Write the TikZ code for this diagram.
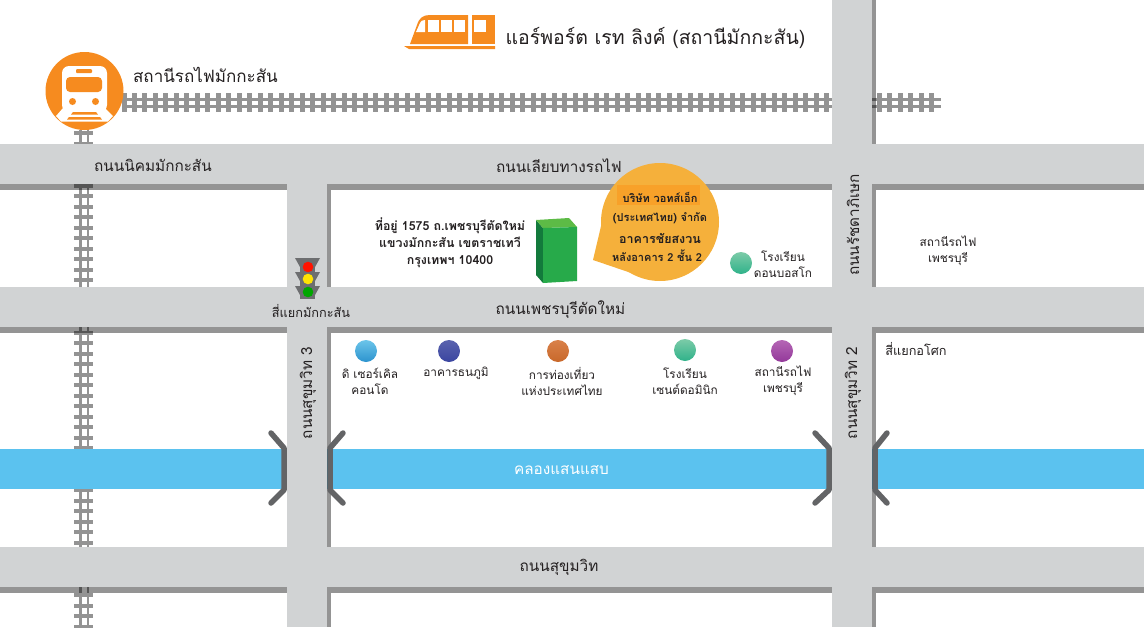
\documentclass[tikz,border=0pt]{standalone}
\usepackage{fontspec}
\setmainfont[Script=Thai]{Loma}
\definecolor{roadgray}{HTML}{D1D3D4}
\definecolor{tiegray}{HTML}{939393}
\definecolor{bridgegray}{HTML}{636466}
\definecolor{lampgray}{HTML}{6D6E70}
\definecolor{labelblack}{HTML}{231F20}
\definecolor{riverblue}{HTML}{5BC2EF}
\definecolor{trainorange}{HTML}{F68B1F}
\definecolor{balloon}{HTML}{F5B03B}
\definecolor{buildfront}{HTML}{27AA4A}
\definecolor{buildside}{HTML}{137A3C}
\definecolor{buildtop}{HTML}{5DBB46}
\definecolor{skytop}{HTML}{6CC5EA}
\definecolor{skybot}{HTML}{2C93CE}
\definecolor{navytop}{HTML}{5A63AE}
\definecolor{navybot}{HTML}{3A45A0}
\definecolor{rusttop}{HTML}{D9814A}
\definecolor{rustbot}{HTML}{C8682A}
\definecolor{minttop}{HTML}{7CCBA8}
\definecolor{mintbot}{HTML}{2FB28A}
\definecolor{plumtop}{HTML}{B566B5}
\definecolor{plumbot}{HTML}{93399A}
\tikzset{
  road/.style={fill=roadgray},
  shade/.style={fill=black, opacity=.42},
  rail/.style={fill=tiegray},
  bridge/.style={draw=bridgegray, line width=5.5pt, line cap=round, line join=round},
  lbl/.style={inner sep=0pt, text=labelblack, font=\fontsize{15.3}{15.3}\selectfont},
  place/.style={inner sep=0pt, text=labelblack, align=center, font=\fontsize{11.8}{16}\selectfont},
  info/.style={inner sep=0pt, text=labelblack, align=center, font=\bfseries\fontsize{12.4}{17}\selectfont},
  pin/.style={circle, minimum size=22pt, inner sep=0pt}
}
\begin{document}
\begin{tikzpicture}[x=1pt, y=-1pt]
    \useasboundingbox (0, 0) rectangle (1144, 627);
    % railway across the top
    \fill [rail] (122, 97.5) rectangle (941, 100.5);
    \fill [rail] (122, 104.5) rectangle (941, 107.5);
    \foreach \k in {0,...,77}
        \fill [rail] ({124+10.49*\k-2.5}, 93) rectangle ({124+10.49*\k+2.5}, 112);
    % railway down the left
    \fill [rail] (79, 130) rectangle (81.5, 627);
    \fill [rail] (86.5, 130) rectangle (89, 627);
    \foreach \k in {0,...,47}
        \fill [rail] (74, {133+10.5*\k-2}) rectangle (93, {133+10.5*\k+2});
    % river
    \fill [riverblue] (0, 449) rectangle (1144, 489);
    % shadow of the roads
    \foreach \y/\yy in {184/287, 327/547, 587/627} {
        \fill [shade] (0, \y) rectangle (287, \y+6);
        \fill [shade] (327, \y) rectangle (832, \y+6);
        \fill [shade] (327, \y+6) rectangle (331, \yy);
        \fill [shade] (872, \y) rectangle (1144, \y+6);
        \fill [shade] (872, \y+6) rectangle (876, \yy);
    }
    \fill [shade] (872, 0) rectangle (876, 144);
    % roads
    \fill [road] (0, 144) rectangle (1144, 184);
    \fill [road] (0, 287) rectangle (1144, 327);
    \fill [road] (0, 547) rectangle (1144, 587);
    \fill [road] (287, 144) rectangle (327, 627);
    \fill [road] (832, 0) rectangle (872, 627);
    % bridges
    \draw [bridge] (271, 433) -- (284, 448) -- (284, 490) -- (271, 503);
    \draw [bridge] (343, 433) -- (330, 448) -- (330, 490) -- (343, 503);
    \draw [bridge] (815, 433) -- (829, 448) -- (829, 490) -- (815, 503);
    \draw [bridge] (887, 433) -- (875, 448) -- (875, 490) -- (887, 503);
    % station sign
    \fill [trainorange] (84.5, 91) circle (39);
    \fill [white, rounded corners=7pt] (62, 66) rectangle (107, 112);
    \fill [trainorange, rounded corners=4pt] (66, 77) rectangle (102, 92);
    \fill [trainorange, rounded corners=1pt] (76, 69) rectangle (92, 73);
    \fill [trainorange] (72.5, 101.5) circle (3.5);
    \fill [trainorange] (95.5, 101.5) circle (3.5);
    \fill [white] (63, 108) -- (105, 108) -- (113, 116) -- (108, 121.5) -- (61, 121.5) -- (56, 116) -- cycle;
    \fill [trainorange] (73, 112) -- (96, 112) -- (98, 114.5) -- (71, 114.5) -- cycle;
    \fill [trainorange] (69, 117) -- (100, 117) -- (102, 119.5) -- (67, 119.5) -- cycle;
    % airport link train
    \fill [trainorange] (404, 46) -- (495, 46) -- (495, 49) -- (409, 49) -- cycle;
    \fill [trainorange] (410, 44) -- (417, 25) .. controls (419, 18) and (423, 15) .. (430, 15)
        -- (468, 15) -- (468, 44) -- cycle;
    \fill [trainorange] (472, 15) -- (495, 15) -- (495, 44) -- (472, 44) -- cycle;
    \foreach \x in {428, 441, 454}
        \fill [white] (\x, 20) rectangle (\x+11, 32);
    \fill [white] (416, 32) -- (420, 23) .. controls (421, 21) and (422, 20) .. (425, 20) -- (425, 32) -- cycle;
    \fill [white] (474, 20) rectangle (486, 32);
    % building
    \fill [buildside] (536, 220) -- (543, 228) -- (543, 283) -- (536, 275) -- cycle;
    \fill [buildtop] (536, 220) -- (569, 218) -- (577, 227) -- (543, 228) -- cycle;
    \fill [buildfront] (543, 228) -- (577, 227) -- (577, 281) -- (543, 283) -- cycle;
    % balloon
    \fill [balloon] (660, 222) circle (59);
    \fill [balloon] (606, 205) -- (593, 260) -- (640, 276) -- cycle;
    \fill [orange!30!balloon] (617, 185) rectangle (700, 205);
    % traffic light
    \foreach \y in {258, 272, 286} {
        \fill [lampgray] (295, \y) -- (320, \y) -- (315, \y+9) -- (300, \y+9) -- cycle;
    }
    \fill [lampgray] (300, 258) rectangle (315, 299);
    \fill [red!85!orange] (308, 267) circle (5.3);
    \fill [yellow!85!orange] (308, 279) circle (5.3);
    \fill [green!65!black] (308, 292) circle (5.3);
    % pins
    \node [pin, top color=skytop, bottom color=skybot] (circlepin) at (366, 351) {};
    \node [pin, top color=navytop, bottom color=navybot] (tanapin) at (449, 351) {};
    \node [pin, top color=rusttop, bottom color=rustbot] (tatpin) at (558, 351) {};
    \node [pin, top color=minttop, bottom color=mintbot] (dominicpin) at (685, 350) {};
    \node [pin, top color=plumtop, bottom color=plumbot] (petchpin) at (782, 351) {};
    \node [pin, top color=minttop, bottom color=mintbot] (boscopin) at (741, 263) {};
    % labels
    \node [lbl, font=\fontsize{19.5}{19.5}\selectfont] (linklabel) at (655.5, 38) {แอร์พอร์ต เรท ลิงค์ (สถานีมักกะสัน)};
    \node [lbl, font=\fontsize{17}{17}\selectfont] (stationlabel) at (205.5, 74.5) {สถานีรถไฟมักกะสัน};
    \node [lbl] (nikomlabel) at (153, 165) {ถนนนิคมมักกะสัน};
    \node [lbl] (railroadlabel) at (559, 166) {ถนนเลียบทางรถไฟ};
    \node [lbl] (petchlabel) at (560.5, 310) {ถนนเพชรบุรีตัดใหม่};
    \node [lbl] (sukhumvitlabel) at (559, 567) {ถนนสุขุมวิท};
    \node [lbl, text=white] (canallabel) at (561.5, 470) {คลองแสนแสบ};
    \node [lbl, rotate=90] (soi3label) at (308, 393) {ถนนสุขุมวิท 3};
    \node [lbl, rotate=90] (soi2label) at (853, 393) {ถนนสุขุมวิท 2};
    \node [lbl, rotate=90] (rachadalabel) at (853, 225) {ถนนรัชดาภิเษก};
    \node [place, font=\fontsize{12.7}{14}\selectfont] (makkasanlabel) at (311, 311) {สี่แยกมักกะสัน};
    \node [place, font=\fontsize{12.7}{14}\selectfont] (asoklabel) at (916, 349) {สี่แยกอโศก};
    \node [place] (phetstationlabel) at (948, 251) {สถานีรถไฟ\\เพชรบุรี};
    \node [place] (boscolabel) at (783, 264) {โรงเรียน\\ดอนบอสโก};
    \node [place] (circlelabel) at (370, 381) {ดิ เซอร์เคิล\\คอนโด};
    \node [place] (tanalabel) at (456, 373.5) {อาคารธนภูมิ};
    \node [place] (tatlabel) at (562, 381) {การท่องเที่ยว\\แห่งประเทศไทย};
    \node [place] (dominiclabel) at (685, 381) {โรงเรียน\\เซนต์ดอมินิก};
    \node [place] (petchstlabel) at (783, 381) {สถานีรถไฟ\\เพชรบุรี};
    \node [info] (addresslabel) at (450, 243) {ที่อยู่ 1575 ถ.เพชรบุรีตัดใหม่\\แขวงมักกะสัน เขตราชเทวี\\กรุงเทพฯ 10400};
    \node [info, font=\bfseries\fontsize{11}{18.5}\selectfont] (companylabel) at (660, 208) {บริษัท วอทส์เอ็ก\\(ประเทศไทย) จำกัด};
    \node [info, font=\bfseries\fontsize{12.5}{14}\selectfont] (buildinglabel) at (660, 238) {อาคารชัยสงวน};
    \node [info, font=\bfseries\fontsize{11}{11}\selectfont] (floorlabel) at (657, 256) {หลังอาคาร 2 ชั้น 2};
\end{tikzpicture}
\end{document}
